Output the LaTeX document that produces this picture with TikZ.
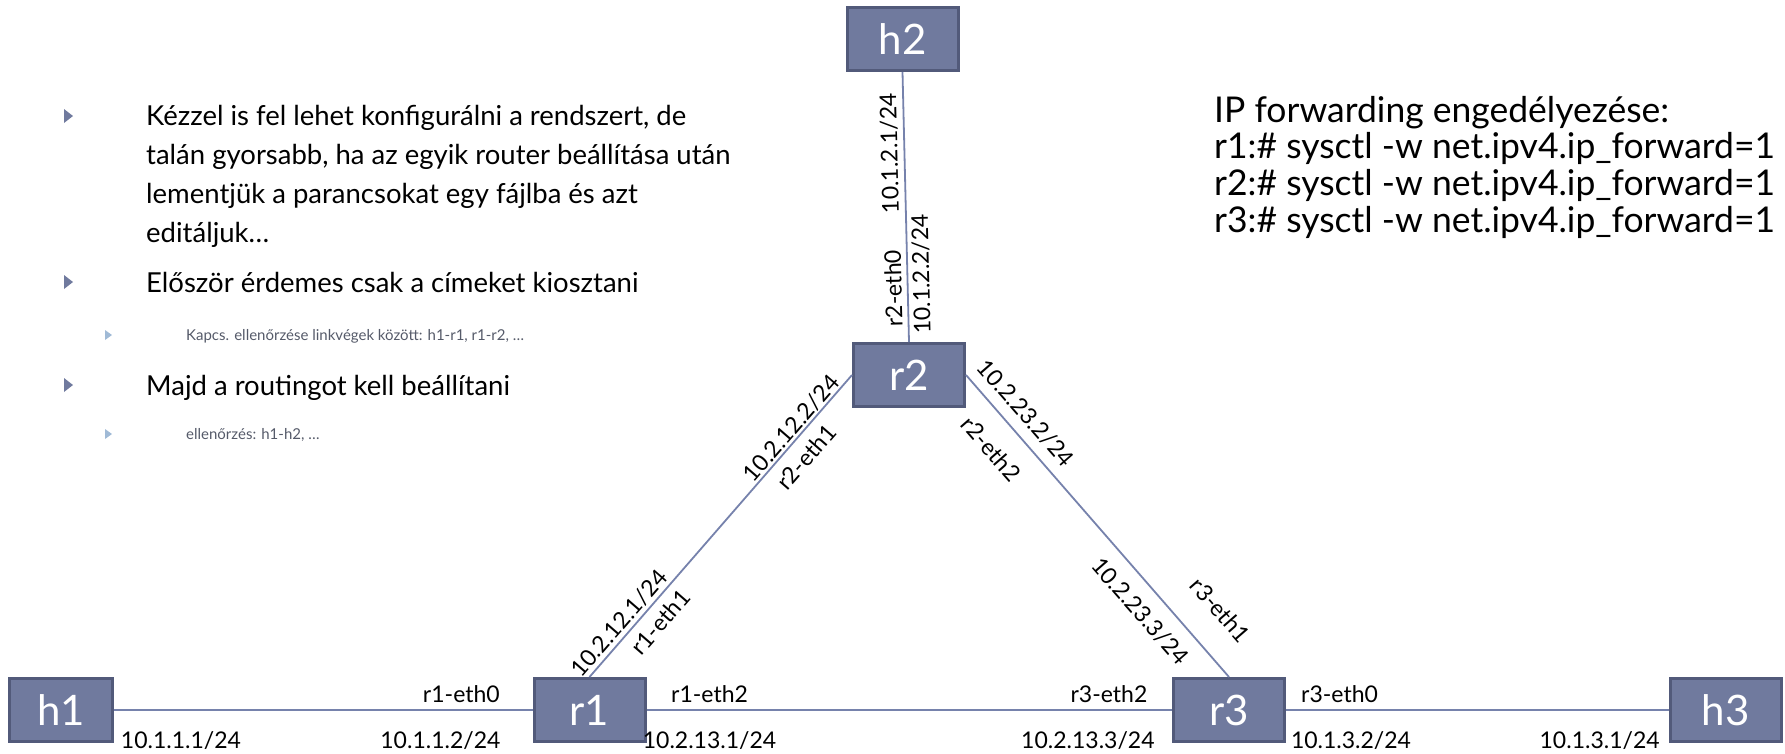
\documentclass[tikz,border=0pt]{standalone}
\usepackage{fontspec}
\setmainfont{Lato}

\definecolor{boxfill}{RGB}{112,122,158}
\definecolor{boxline}{RGB}{82,90,122}
\definecolor{linkcol}{RGB}{118,130,172}
\definecolor{bulletcol}{RGB}{112,122,158}
\definecolor{subbulletcol}{RGB}{160,186,214}
\definecolor{subtextcol}{RGB}{85,90,105}

\tikzset{
  dev/.style={draw=boxline, fill=boxfill, line width=3pt, minimum width=111pt,
    minimum height=63pt, inner sep=0pt, text=white, font=\fontsize{42}{42}\selectfont},
  link/.style={draw=linkcol, line width=1.8pt},
  lbl/.style={font=\fontsize{23}{23}\selectfont, inner sep=1pt},
  maintxt/.style={font=\fontsize{27.5}{38.7}\selectfont, align=left, inner sep=0pt},
  subtxt/.style={font=\fontsize{15}{18}\selectfont, text=subtextcol, inner sep=0pt},
  cmdtxt/.style={font=\fontsize{35.5}{36.6}\selectfont, align=left, inner sep=0pt},
}

\begin{document}
\begin{tikzpicture}[x=1pt,y=-1pt]
\useasboundingbox (0,0) rectangle (1785,753);

% bullets
\foreach \y in {116,282,385}
  \fill[bulletcol] (64,\y-7) -- (73,\y) -- (64,\y+7) -- cycle;
\foreach \y in {335,434}
  \fill[subbulletcol] (105,\y-5) -- (112,\y) -- (105,\y+5) -- cycle;

% base anchor = baseline of the last line
\node[maintxt, anchor=base west] (kezzel) at (146,242) {Kézzel is fel lehet konfigurálni a rendszert, de\\talán gyorsabb, ha az egyik router beállítása után\\lementjük a parancsokat egy fájlba és azt\\editáljuk…};
\node[maintxt, anchor=base west] (eloszor) at (146,292) {Először érdemes csak a címeket kiosztani};
\node[subtxt, anchor=base west] (kapcs) at (186,340) {Kapcs. ellenőrzése linkvégek között: h1-r1, r1-r2, …};
\node[maintxt, anchor=base west] (majd) at (146,395) {Majd a routingot kell beállítani};
\node[subtxt, anchor=base west] (ellenorzes) at (186,439) {ellenőrzés: h1-h2, …};

% IP forwarding
\node[cmdtxt, anchor=base west] (ipfw) at (1214,232) {IP forwarding engedélyezése:\\r1:\# sysctl -w net.ipv4.ip\_forward=1\\r2:\# sysctl -w net.ipv4.ip\_forward=1\\r3:\# sysctl -w net.ipv4.ip\_forward=1};

% hosts and routers
\node[dev] (h2) at (902.5,39) {h2};
\node[dev] (r2) at (909,375) {r2};
\node[dev] (r1) at (589.5,710) {r1};
\node[dev] (r3) at (1229,710) {r3};
\node[dev, minimum width=103pt] (h1) at (61,710) {h1};
\node[dev] (h3) at (1725.5,710) {h3};

% links
\draw[link] (h1.east) -- (r1.west)
  node[lbl, pos=.16, below=20pt] (ip111) {10.1.1.1/24}
  node[lbl, pos=.78, below=20pt] (ip112) {10.1.1.2/24}
  node[lbl, pos=.83, above=5pt] (r1eth0) {r1-eth0};
\draw[link] (r1.east) -- (r3.west)
  node[lbl, pos=.12, above=5pt] (r1eth2) {r1-eth2}
  node[lbl, pos=.12, below=20pt] (ip2131) {10.2.13.1/24}
  node[lbl, pos=.88, above=5pt] (r3eth2) {r3-eth2}
  node[lbl, pos=.84, below=20pt] (ip2133) {10.2.13.3/24};
\draw[link] (r3.east) -- (h3.west)
  node[lbl, pos=.14, above=5pt] (r3eth0) {r3-eth0}
  node[lbl, pos=.17, below=20pt] (ip132) {10.1.3.2/24}
  node[lbl, pos=.82, below=20pt] (ip131) {10.1.3.1/24};
\draw[link] (r2.north) -- (h2.south)
  node[lbl, sloped, allow upside down, pos=.7, above=4pt] (ip121) {10.1.2.1/24}
  node[lbl, sloped, allow upside down, pos=.2, above=4pt] (r2eth0) {r2-eth0}
  node[lbl, sloped, allow upside down, pos=.25, below=3pt] (ip122) {10.1.2.2/24};
\draw[link] (r1.north) -- (r2.west)
  node[lbl, sloped, pos=.15, above=2pt] (ip2121) {10.2.12.1/24}
  node[lbl, sloped, pos=.22, below=7pt] (r1eth1) {r1-eth1}
  node[lbl, sloped, pos=.80, above=0pt] (ip2122) {10.2.12.2/24}
  node[lbl, sloped, pos=.77, below=9pt] (r2eth1) {r2-eth1};
\draw[link] (r2.east) -- (r3.north)
  node[lbl, sloped, pos=.17, above=9pt] (ip2232) {10.2.23.2/24}
  node[lbl, sloped, pos=.18, below=19pt] (r2eth2) {r2-eth2}
  node[lbl, sloped, pos=.73, below=13pt] (ip2233) {10.2.23.3/24}
  node[lbl, sloped, pos=.86, above=27pt] (r3eth1) {r3-eth1};
\end{tikzpicture}
\end{document}
